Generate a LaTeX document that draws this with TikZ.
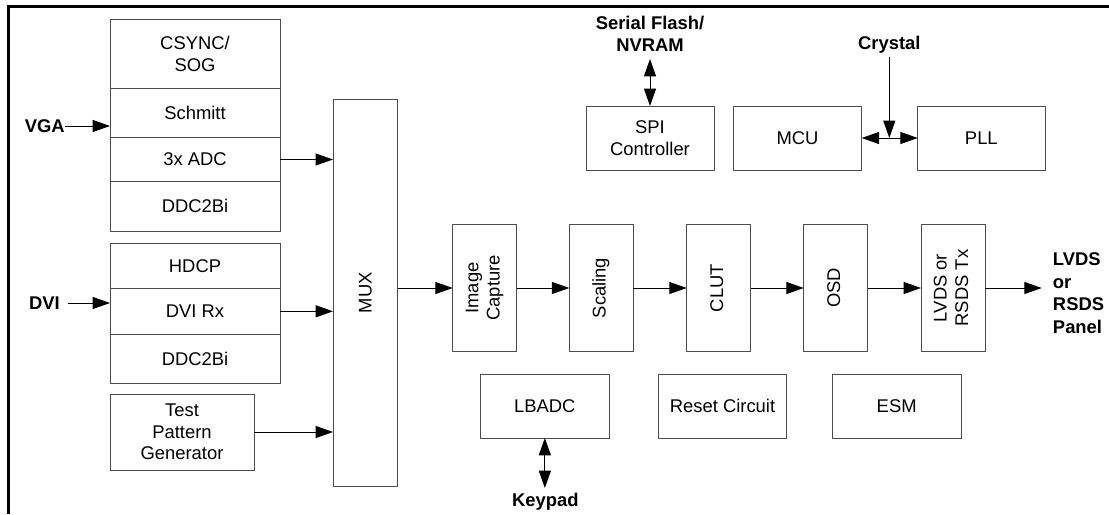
\documentclass[tikz,border=0pt]{standalone}
\usepackage{fontspec}
\setmainfont{Liberation Sans}
\usepackage{graphicx}
\usetikzlibrary{arrows.meta}
\newcommand\fs{\fontsize{13.8}{16.1}\selectfont}
\newcommand\mkbox[7][]{\node[bx,#1,minimum width={0.75pt*(#5-#3)},minimum height={0.75pt*(#6-#4)}] (#2) at ({(#3+#5)/2},{(#4+#6)/2}) {#7};}
\newcommand\rot[1]{\rotatebox{90}{\begin{tabular}{@{}c@{}}#1\end{tabular}}}
\begin{document}
\begin{tikzpicture}[x=0.75pt,y=-0.75pt,
 bx/.style={draw=black!70, line width=0.75pt, inner sep=0pt, outer sep=0pt, align=center, font=\fs},
 lbl/.style={font=\fs\bfseries, inner sep=0pt, align=center},
 arr/.style={line width=0.75pt, -{Triangle[length=13pt,width=9pt]}},
 darr/.style={line width=0.75pt, {Triangle[length=13pt,width=9pt]}-{Triangle[length=13pt,width=9pt]}},
 frame/.style={line width=2.25pt, line cap=butt}]
\useasboundingbox (0,0) rectangle (1109,514);
\draw[frame] (1109,6.5) -- (8.5,6.5) -- (8.5,514);
% VGA stack
\mkbox{csync}{110}{19.5}{280}{88.7}{CSYNC/\\SOG}
\mkbox{schmitt}{110}{88.7}{280}{137.3}{Schmitt}
\mkbox{adc}{110}{137.3}{280}{181.7}{3x ADC}
\mkbox{ddca}{110}{181.7}{280}{231}{DDC2Bi}
% DVI stack
\mkbox{hdcp}{110}{243.3}{280}{288.3}{HDCP}
\mkbox{dvirx}{110}{288.3}{280}{334.3}{DVI Rx}
\mkbox{ddcb}{110}{334.3}{280}{383.7}{DDC2Bi}
\mkbox{tpg}{110}{394}{254}{470}{Test\\Pattern\\Generator}
% MUX
\mkbox{mux}{333}{99}{397.7}{486.7}{\rotatebox{90}{MUX}}
% pipeline
\mkbox{ic}{452.7}{224.3}{516.7}{351.7}{\rot{Image\\Capture}}
\mkbox{sc}{569.3}{224.3}{633.3}{351.7}{\rot{Scaling}}
\mkbox{clut}{686.7}{224.3}{750.7}{351.7}{\rot{CLUT}}
\mkbox{osd}{803.7}{224.3}{867.7}{351.7}{\rot{OSD}}
\mkbox{tx}{921}{224.3}{985}{351.7}{\rot{LVDS or\\RSDS Tx}}
% bottom row
\mkbox{lbadc}{480.7}{374}{609}{438}{LBADC}
\mkbox{reset}{658.3}{374}{786.7}{438}{Reset Circuit}
\mkbox{esm}{832.3}{374}{961}{438}{ESM}
% top row
\mkbox{spi}{586}{106}{714}{170}{SPI\\Controller}
\mkbox{mcu}{733.3}{106}{861.7}{170}{MCU}
\mkbox{pll}{917.7}{106}{1045}{170}{PLL}
% labels
\node[lbl, anchor=east] (vga) at (65,126) {VGA};
\node[lbl, anchor=east, inner xsep=6pt] (dvi) at (68,303) {DVI};
\node[lbl, anchor=south, inner ysep=5.5pt] (flash) at (650,59) {Serial Flash/\\NVRAM};
\node[lbl, anchor=south, inner ysep=2.6pt] (crystal) at (889.3,56.7) {Crystal};
\node[lbl, anchor=north, inner ysep=4pt] (keypad) at (545.3,488) {Keypad};
\node[lbl, anchor=west, inner xsep=8.25pt, align=left, font=\fontsize{13.8}{16.9}\selectfont\bfseries] (panel) at (1041.7,293) {LVDS\\or\\RSDS\\Panel};
% connectors
\draw[arr] (vga.east) -- (vga.east -| schmitt.west);
\draw[arr] (dvi.east) -- (dvi.east -| dvirx.west);
\draw[arr] (adc.east) -- (adc.east -| mux.west);
\draw[arr] (dvirx.east) -- (dvirx.east -| mux.west);
\draw[arr] (tpg.east) -- (tpg.east -| mux.west);
\draw[arr] (ic.west -| mux.east) -- (ic.west);
\draw[arr] (ic.east) -- (sc.west);
\draw[arr] (sc.east) -- (clut.west);
\draw[arr] (clut.east) -- (osd.west);
\draw[arr] (osd.east) -- (tx.west);
\draw[arr] (tx.east) -- (tx.east -| panel.west);
\draw[darr] (spi.north) -- (spi.north |- flash.south);
\draw[darr] (mcu.east) -- (pll.west);
\draw[arr] (crystal.south) -- (crystal.south |- mcu.east);
\draw[darr] (lbadc.south) -- (lbadc.south |- keypad.north);
\end{tikzpicture}
\end{document}
